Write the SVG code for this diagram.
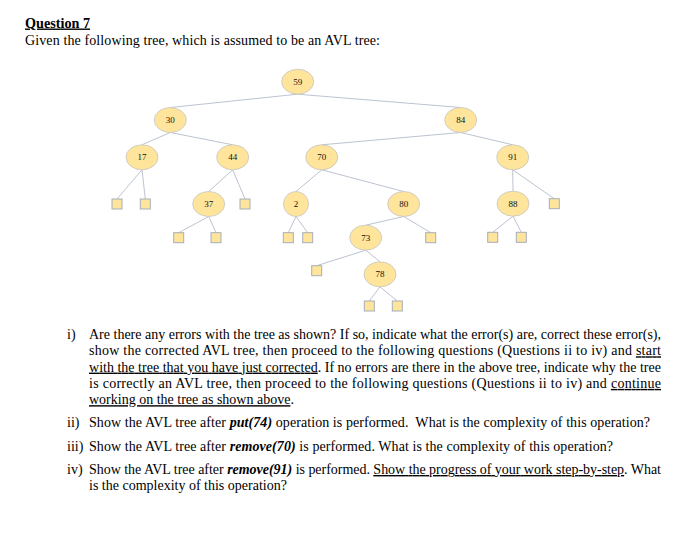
<svg xmlns="http://www.w3.org/2000/svg" width="691" height="543" viewBox="0 0 691 543">
<style>
.t{font-family:"Liberation Serif","Times New Roman",serif;font-size:14px;fill:#000}
.u{text-decoration:underline}
.em{font-style:italic;font-weight:bold}
.n ellipse{fill:#fee59b;stroke:#c4c4c4;stroke-width:0.8}
.n text{font-family:"Liberation Serif","Times New Roman",serif;font-size:9px;fill:#111;text-anchor:middle}
.leaf rect{fill:#fee59b;stroke:#a5adbb;stroke-width:1}
#edges line{stroke:#aab4c6;stroke-width:0.8}
</style>
<rect width="691" height="543" fill="#fff"/>
<text class="t" x="25" y="27.5" font-weight="bold" textLength="65" lengthAdjust="spacingAndGlyphs"><tspan class="u">Question 7</tspan></text>
<text class="t" x="25" y="45" textLength="355" lengthAdjust="spacing">Given the following tree, which is assumed to be an AVL tree:</text>

<g id="edges">
<line x1="297.7" y1="94.2" x2="170.3" y2="107.5"/>
<line x1="297.7" y1="94.2" x2="460.7" y2="107.5"/>
<line x1="170.3" y1="132.5" x2="142" y2="144.8"/>
<line x1="170.3" y1="132.5" x2="232.7" y2="144.8"/>
<line x1="460.7" y1="132.5" x2="321.7" y2="144.8"/>
<line x1="460.7" y1="132.5" x2="512.7" y2="144.8"/>
<line x1="142" y1="169.8" x2="117" y2="199"/>
<line x1="142" y1="169.8" x2="145.3" y2="199"/>
<line x1="232.7" y1="169.8" x2="208.7" y2="191.5"/>
<line x1="232.7" y1="169.8" x2="245" y2="199"/>
<line x1="321.7" y1="169.8" x2="296" y2="191.5"/>
<line x1="321.7" y1="169.8" x2="403.7" y2="191.5"/>
<line x1="512.7" y1="169.8" x2="513" y2="191.2"/>
<line x1="512.7" y1="169.8" x2="554.3" y2="198.7"/>
<line x1="208.7" y1="216.5" x2="178.7" y2="232.7"/>
<line x1="208.7" y1="216.5" x2="216" y2="232.7"/>
<line x1="296" y1="216.5" x2="288.3" y2="232.7"/>
<line x1="296" y1="216.5" x2="307.7" y2="232.7"/>
<line x1="403.7" y1="216.5" x2="365.7" y2="225.2"/>
<line x1="403.7" y1="216.5" x2="430.7" y2="232.7"/>
<line x1="513" y1="216.2" x2="492.7" y2="232.3"/>
<line x1="513" y1="216.2" x2="521.3" y2="232.3"/>
<line x1="365.7" y1="250.2" x2="316.7" y2="265.7"/>
<line x1="365.7" y1="250.2" x2="380" y2="261.8"/>
<line x1="380" y1="286.8" x2="369.3" y2="301"/>
<line x1="380" y1="286.8" x2="397.3" y2="301"/>
</g>

<g id="n59" class="n"><ellipse cx="297.7" cy="81.7" rx="16" ry="12.5"/><text x="297.7" y="84.8">59</text></g>
<g id="n30" class="n"><ellipse cx="170.3" cy="120" rx="16" ry="12.5"/><text x="170.3" y="123.1">30</text></g>
<g id="n84" class="n"><ellipse cx="460.7" cy="120" rx="16" ry="12.5"/><text x="460.7" y="123.1">84</text></g>
<g id="n17" class="n"><ellipse cx="142" cy="157.3" rx="16" ry="12.5"/><text x="142" y="160.4">17</text></g>
<g id="n44" class="n"><ellipse cx="232.7" cy="157.3" rx="16" ry="12.5"/><text x="232.7" y="160.4">44</text></g>
<g id="n70" class="n"><ellipse cx="321.7" cy="157.3" rx="16" ry="12.5"/><text x="321.7" y="160.4">70</text></g>
<g id="n91" class="n"><ellipse cx="512.7" cy="157.3" rx="16" ry="12.5"/><text x="512.7" y="160.4">91</text></g>
<g id="n37" class="n"><ellipse cx="208.7" cy="204" rx="16" ry="12.5"/><text x="208.7" y="207.1">37</text></g>
<g id="n2" class="n"><ellipse cx="296" cy="204" rx="12.5" ry="12.5"/><text x="296" y="207.1">2</text></g>
<g id="n80" class="n"><ellipse cx="403.7" cy="204" rx="16" ry="12.5"/><text x="403.7" y="207.1">80</text></g>
<g id="n88" class="n"><ellipse cx="513" cy="203.7" rx="16" ry="12.5"/><text x="513" y="206.8">88</text></g>
<g id="n73" class="n"><ellipse cx="365.7" cy="237.7" rx="16" ry="12.5"/><text x="365.7" y="240.8">73</text></g>
<g id="n78" class="n"><ellipse cx="380" cy="274.3" rx="16" ry="12.5"/><text x="380" y="277.4">78</text></g>

<g id="leaf17L" class="leaf"><rect x="112" y="199" width="10" height="10"/></g>
<g id="leaf17R" class="leaf"><rect x="140.3" y="199" width="10" height="10"/></g>
<g id="leaf44R" class="leaf"><rect x="240" y="199" width="10" height="10"/></g>
<g id="leaf37L" class="leaf"><rect x="173.7" y="232.7" width="10" height="10"/></g>
<g id="leaf37R" class="leaf"><rect x="211" y="232.7" width="10" height="10"/></g>
<g id="leaf2L" class="leaf"><rect x="283.3" y="232.7" width="10" height="10"/></g>
<g id="leaf2R" class="leaf"><rect x="302.7" y="232.7" width="10" height="10"/></g>
<g id="leaf80R" class="leaf"><rect x="425.7" y="232.7" width="10" height="10"/></g>
<g id="leaf73L" class="leaf"><rect x="311.7" y="265.7" width="10" height="10"/></g>
<g id="leaf78L" class="leaf"><rect x="364.3" y="301" width="10" height="10"/></g>
<g id="leaf78R" class="leaf"><rect x="392.3" y="301" width="10" height="10"/></g>
<g id="leaf91R" class="leaf"><rect x="549.3" y="198.7" width="10" height="10"/></g>
<g id="leaf88L" class="leaf"><rect x="487.7" y="232.3" width="10" height="10"/></g>
<g id="leaf88R" class="leaf"><rect x="516.3" y="232.3" width="10" height="10"/></g>

<text class="t" x="67" y="339">i)</text>
<text class="t" x="89" y="339" textLength="572" lengthAdjust="spacing">Are there any errors with the tree as shown? If so, indicate what the error(s) are, correct these error(s),</text>
<text class="t" x="89" y="355.3" textLength="572" lengthAdjust="spacing">show the corrected AVL tree, then proceed to the following questions (Questions ii to iv) and <tspan class="u">start</tspan></text>
<text class="t" x="89" y="371.6" textLength="572" lengthAdjust="spacing"><tspan class="u">with the tree that you have just corrected</tspan>. If no errors are there in the above tree, indicate why the tree</text>
<text class="t" x="89" y="387.9" textLength="572" lengthAdjust="spacing">is correctly an AVL tree, then proceed to the following questions (Questions ii to iv) and <tspan class="u">continue</tspan></text>
<text class="t" x="89" y="404.2"><tspan class="u">working on the tree as shown above</tspan>.</text>

<text class="t" x="67" y="427.3">ii)</text>
<text class="t" x="89" y="427.3" textLength="561" lengthAdjust="spacing">Show the AVL tree after <tspan class="em">put(74)</tspan> operation is performed.&#160; What is the complexity of this operation?</text>
<text class="t" x="67" y="450.7">iii)</text>
<text class="t" x="89" y="450.7" textLength="524" lengthAdjust="spacing">Show the AVL tree after <tspan class="em">remove(70)</tspan> is performed. What is the complexity of this operation?</text>
<text class="t" x="67" y="474">iv)</text>
<text class="t" x="89" y="474" textLength="572" lengthAdjust="spacing">Show the AVL tree after <tspan class="em">remove(91)</tspan> is performed. <tspan class="u">Show the progress of your work step-by-step</tspan>. What</text>
<text class="t" x="89" y="490">is the complexity of this operation?</text>
</svg>
